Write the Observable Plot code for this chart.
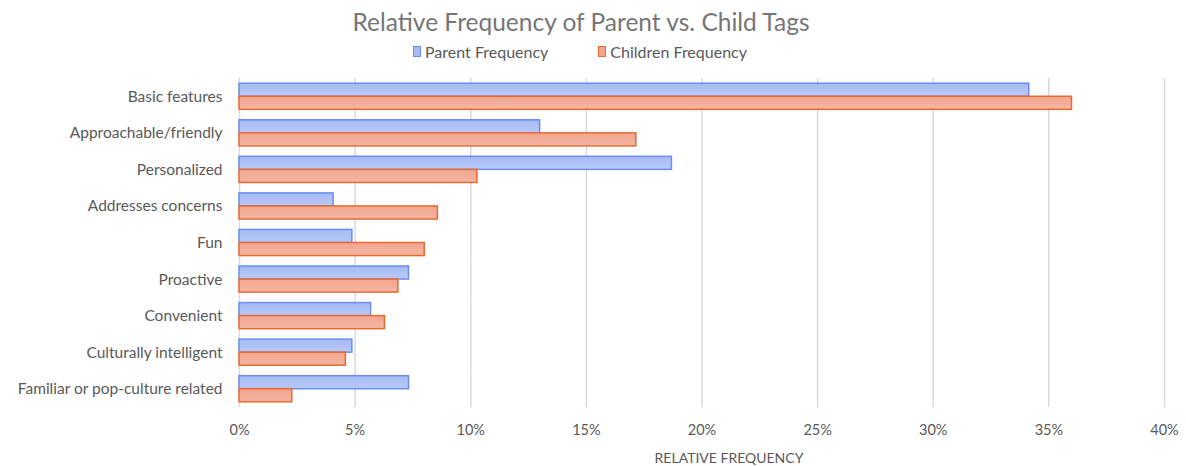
<!DOCTYPE html>
<html>
<head>
<meta charset="utf-8">
<script src="https://cdn.jsdelivr.net/npm/d3@7"></script>
<script src="https://cdn.jsdelivr.net/npm/@observablehq/plot@0.6"></script>
<style>
  body { margin: 0; background: #fff; font-family: Lato, "Open Sans", sans-serif; }
  #wrap { position: relative; width: 1186px; height: 466px; }
  #title { position: absolute; top: 7px; left: -12px; width: 1186px; text-align: center;
           font-size: 24.5px; color: #767676; }
  #legend { position: absolute; top: 42px; left: -13px; width: 1186px; display: flex;
            justify-content: center; gap: 50px; font-size: 16px; color: #595959; }
  #legend span.item { display: flex; align-items: center; gap: 4px; }
  #legend span.sw { display: inline-block; width: 6px; height: 9px; border: 1.5px solid; }
  #chart { position: absolute; top: 68px; left: 0; line-height: 0; }
  #xlabel { position: absolute; top: 449px; left: 0; width: 1186px; text-align: center;
            padding-left: 272px; box-sizing: border-box; font-size: 14px; color: #595959; }
</style>
</head>
<body>
<div id="wrap">
  <div id="title">Relative Frequency of Parent vs. Child Tags</div>
  <div id="legend"></div>
  <div id="chart"></div>
  <div id="xlabel">RELATIVE FREQUENCY</div>
</div>
<script>
// Tag categories, top to bottom
const tags = [
  "Basic features",
  "Approachable/friendly",
  "Personalized",
  "Addresses concerns",
  "Fun",
  "Proactive",
  "Convenient",
  "Culturally intelligent",
  "Familiar or pop-culture related"
];
const seriesNames = ["Parent Frequency", "Children Frequency"];
// Relative frequency (%) per tag
const parentFreq   = [34.15, 13.0, 18.7, 4.07, 4.88, 7.33, 5.69, 4.88, 7.33];
const childrenFreq = [36.0, 17.16, 10.29, 8.58, 8.01, 6.87, 6.29, 4.6, 2.28];
const xTicks = [0, 5, 10, 15, 20, 25, 30, 35, 40];

const colors = {
  "Parent Frequency":   {stroke: "#6a8ef0", top: "#a6baf5", bottom: "#b9caf8", grad: "gradParent"},
  "Children Frequency": {stroke: "#e9692f", top: "#f1a68f", bottom: "#f5b6a3", grad: "gradChildren"}
};

const rows = [];
tags.forEach((t, i) => {
  rows.push({tag: t, series: seriesNames[0], value: parentFreq[i] / 100});
  rows.push({tag: t, series: seriesNames[1], value: childrenFreq[i] / 100});
});

// Legend
const legend = document.getElementById("legend");
seriesNames.forEach(s => {
  const item = document.createElement("span");
  item.className = "item";
  const sw = document.createElement("span");
  sw.className = "sw";
  sw.style.borderColor = colors[s].stroke;
  sw.style.background = colors[s].top;
  item.appendChild(sw);
  item.appendChild(document.createTextNode(s));
  legend.appendChild(item);
});

// Gradient definitions for the bar fills
const defs = () => {
  const ns = "http://www.w3.org/2000/svg";
  const d = document.createElementNS(ns, "defs");
  for (const s of seriesNames) {
    const g = document.createElementNS(ns, "linearGradient");
    g.setAttribute("id", colors[s].grad);
    g.setAttribute("x1", "0"); g.setAttribute("y1", "0");
    g.setAttribute("x2", "0"); g.setAttribute("y2", "1");
    [["0%", colors[s].top], ["100%", colors[s].bottom]].forEach(([o, c]) => {
      const st = document.createElementNS(ns, "stop");
      st.setAttribute("offset", o);
      st.setAttribute("stop-color", c);
      g.appendChild(st);
    });
    d.appendChild(g);
  }
  return d;
};

const chart = Plot.plot({
  width: 1186,
  height: 378,
  marginTop: 10,
  marginBottom: 39,
  marginLeft: 239,
  marginRight: 22,
  style: {fontFamily: "Lato, 'Open Sans', sans-serif", fontSize: "14px", color: "#595959"},
  x: {domain: [0, 0.4], ticks: xTicks.map(v => v / 100), tickFormat: d3.format(".0%"), label: null},
  fy: {domain: tags, padding: 0, round: false, label: null},
  y: {domain: seriesNames, paddingInner: 0, paddingOuter: 0.4, round: false, axis: null},
  marks: [
    defs,
    Plot.ruleX(xTicks.map(v => v / 100), {stroke: "#d9d9d9", strokeWidth: 1.5}),
    ...seriesNames.map(s =>
      Plot.barX(rows.filter(r => r.series === s), {
        x: "value", y: "series", fy: "tag",
        fill: `url(#${colors[s].grad})`,
        stroke: colors[s].stroke, strokeWidth: 1.5
      })
    ),
    Plot.axisX({ticks: xTicks.map(v => v / 100), tickFormat: d3.format(".0%"), tickSize: 0, tickPadding: 17,
                label: null, fontSize: 14.5}),
    Plot.axisFy({anchor: "left", tickSize: 0, tickPadding: 17, label: null, fontSize: 15.5})
  ]
});
document.getElementById("chart").appendChild(chart);
</script>
</body>
</html>
